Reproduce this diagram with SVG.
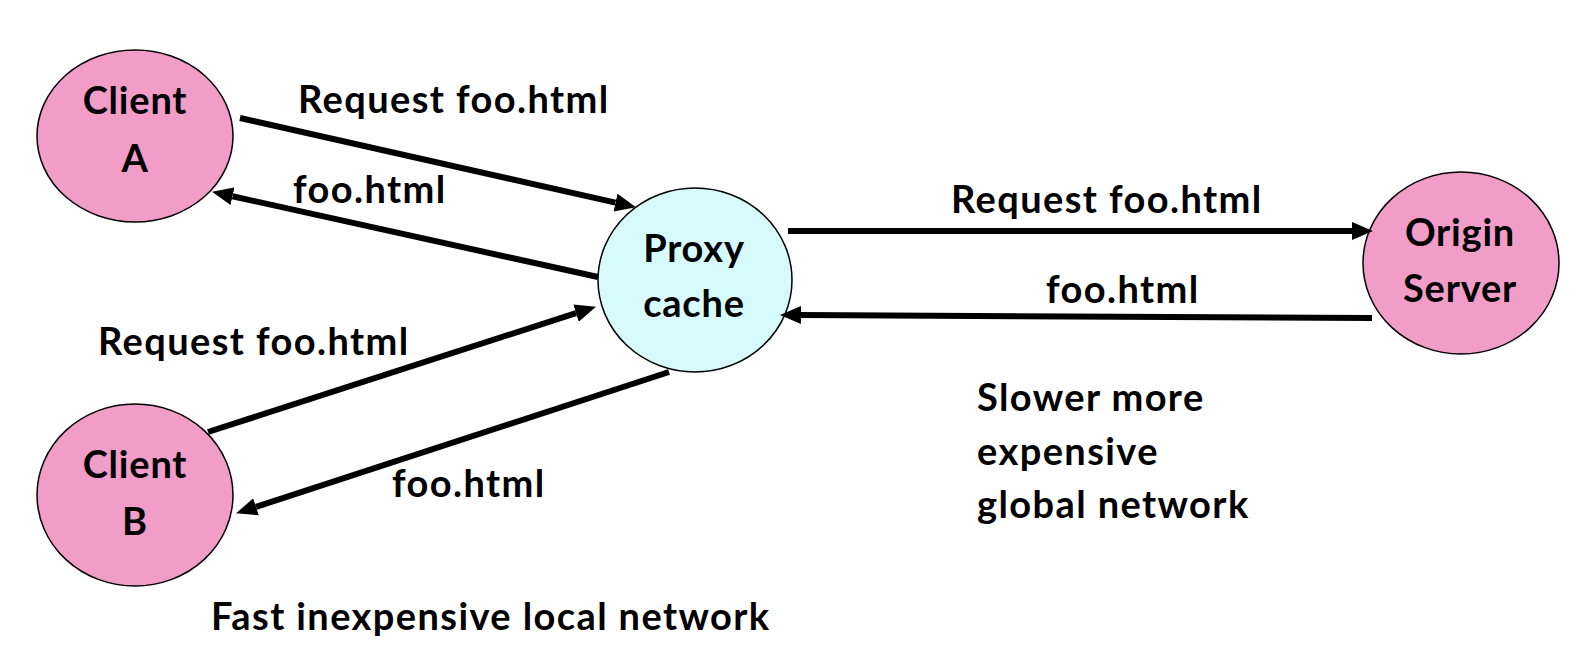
<svg xmlns="http://www.w3.org/2000/svg" width="1592" height="666" viewBox="0 0 1592 666">
<style>
text{font-family:Lato,"Open Sans","Liberation Sans",sans-serif;font-weight:bold;font-size:38px;fill:#000;letter-spacing:1.4px}
.c{text-anchor:middle;letter-spacing:0.8px}
.pink{fill:#F19DC8;stroke:#000;stroke-width:1.5}
.cyan{fill:#D7FBFC;stroke:#000;stroke-width:1.5}
.arr{stroke:#000;stroke-width:6;fill:none;marker-end:url(#ah)}
</style>
<defs>
<marker id="ah" markerUnits="userSpaceOnUse" markerWidth="22" markerHeight="20" refX="0" refY="10" orient="auto" viewBox="0 0 22 20">
<path d="M0,1 L21,10 L0,19 z" fill="#000"/>
</marker>
</defs>
<rect width="1592" height="666" fill="#fff"/>
<g id="clientA">
<ellipse class="pink" cx="135" cy="136" rx="98" ry="86"/>
<text class="c" x="135" y="114">Client</text>
<text class="c" x="135" y="172">A</text>
</g>
<g id="clientB">
<ellipse class="pink" cx="135" cy="495" rx="98" ry="91"/>
<text class="c" x="135" y="478">Client</text>
<text class="c" x="135" y="535">B</text>
</g>
<g id="proxy">
<ellipse class="cyan" cx="695" cy="280" rx="97" ry="92"/>
<text class="c" x="694" y="262">Proxy</text>
<text class="c" x="694" y="317">cache</text>
</g>
<g id="origin">
<ellipse class="pink" cx="1461" cy="263" rx="98" ry="91"/>
<text class="c" x="1460" y="246">Origin</text>
<text class="c" x="1460" y="302">Server</text>
</g>
<g id="connectors">
<line class="arr" x1="240" y1="118" x2="615.5" y2="202.6"/>
<line class="arr" x1="598" y1="277" x2="232.5" y2="196.3"/>
<line class="arr" x1="208" y1="432" x2="576" y2="313.1"/>
<line class="arr" x1="669" y1="372" x2="256" y2="506.8"/>
<line class="arr" x1="788" y1="231" x2="1352" y2="231"/>
<line class="arr" x1="1372" y1="318" x2="801" y2="315"/>
</g>
<g id="labels">
<text x="298" y="113">Request foo.html</text>
<text x="293" y="203">foo.html</text>
<text x="98" y="355">Request foo.html</text>
<text x="392" y="497">foo.html</text>
<text x="951" y="213">Request foo.html</text>
<text x="1046" y="303">foo.html</text>
<text x="977" y="411">Slower more</text>
<text x="977" y="465">expensive</text>
<text x="977" y="518">global network</text>
<text x="211" y="630">Fast inexpensive local network</text>
</g>
</svg>
